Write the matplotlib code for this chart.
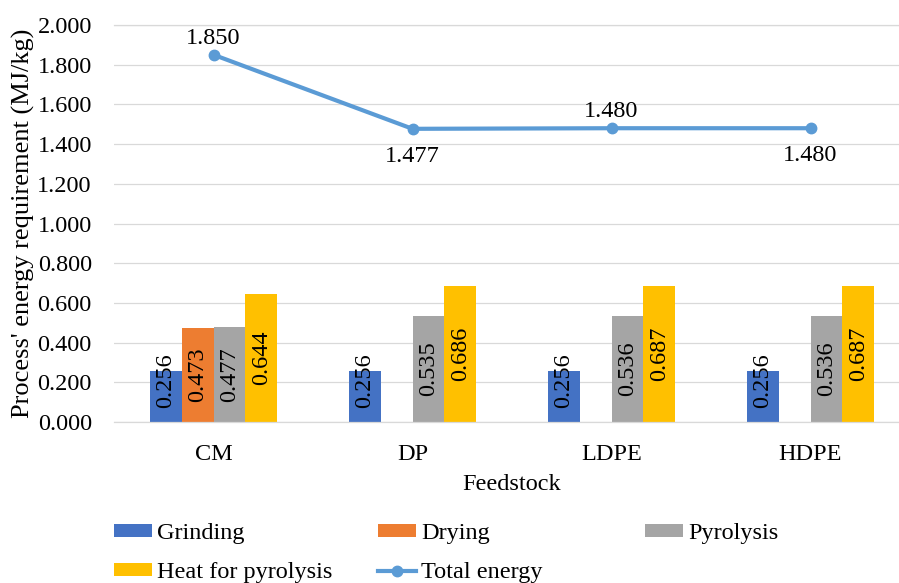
import numpy as np
import matplotlib
matplotlib.use('Agg')
import matplotlib.pyplot as plt
from matplotlib.ticker import FormatStrFormatter

plt.rcParams['font.family'] = ['Liberation Serif', 'DejaVu Serif']

feedstocks = ['CM', 'DP', 'LDPE', 'HDPE']
grinding = [0.256, 0.256, 0.256, 0.256]
drying = [0.473, np.nan, np.nan, np.nan]      # no drying step for the plastics
pyrolysis = [0.477, 0.535, 0.536, 0.536]
heat_pyrolysis = [0.644, 0.686, 0.687, 0.687]
total_energy = [1.850, 1.477, 1.480, 1.480]
total_label_side = [1, -1, 1, -1]   # label above (+1) or below (-1) the point

series_names = ['Grinding', 'Drying', 'Pyrolysis', 'Heat for pyrolysis']
series_colors = ['#4472C4', '#ED7D31', '#A5A5A5', '#FFC000']
line_color = '#5B9BD5'
grid_color = '#D9D9D9'
FS = 17.5

fig = plt.figure(figsize=(8.99, 5.83), dpi=100)
ax = fig.add_axes([114 / 899, 161 / 583, 796 / 899, 397 / 583])

x = np.arange(len(feedstocks))
w = 0.16
handles = {}
for i, (name, vals, col) in enumerate(zip(series_names,
                                          [grinding, drying, pyrolysis, heat_pyrolysis],
                                          series_colors)):
    offs = (i - 1.5) * w
    b = ax.bar(x + offs, vals, w, color=col, label=name, zorder=2)
    handles[name] = b
    for xi, v in zip(x + offs, vals):
        if np.isnan(v):
            continue
        ax.text(xi, max(v / 2, 0.21), f'{v:.3f}', rotation=90,
                ha='center', va='center', fontsize=FS, zorder=4)

line, = ax.plot(x, total_energy, color=line_color, lw=3, marker='o', ms=7.5,
                label='Total energy', zorder=3)
handles['Total energy'] = line
for xi, v, side in zip(x, total_energy, total_label_side):
    ax.annotate(f'{v:.3f}', (xi, v), xytext=(0, 12 if side > 0 else -20),
                textcoords='offset points', ha='center', va='center', fontsize=FS)

ax.set_xlim(-0.5, 3.5)
ax.set_ylim(0, 2.0)
ax.set_yticks(np.arange(0, 2.001, 0.2))
ax.yaxis.set_major_formatter(FormatStrFormatter('%.3f'))
ax.set_xticks(x, feedstocks)
ax.tick_params(length=0, labelsize=FS)
ax.tick_params(axis='y', pad=16)
ax.tick_params(axis='x', pad=16)
ax.grid(axis='y', color=grid_color, lw=0.9)
ax.set_axisbelow(True)
for s in ['left', 'right']:
    ax.spines[s].set_visible(False)
for s in ['top', 'bottom']:
    ax.spines[s].set_color(grid_color)
    ax.spines[s].set_linewidth(0.9)

ax.set_xlabel('Feedstock', fontsize=FS, labelpad=6.5)
ax.set_ylabel("Process' energy requirement (MJ/kg)", fontsize=19, labelpad=2)

# Excel-style legend grid: three fixed columns, two rows
leg_kw = dict(loc='upper left', frameon=False, fontsize=FS, borderpad=0,
              borderaxespad=0, handlelength=1.56, handleheight=0.45,
              handletextpad=0.22, labelspacing=0.76, numpoints=1)
top = 1 - 523 / 583
columns = [(114, ['Grinding', 'Heat for pyrolysis']),
           (378, ['Drying', 'Total energy']),
           (645, ['Pyrolysis'])]
for px, names in columns:
    lg = fig.legend([handles[n] for n in names], names,
                    bbox_to_anchor=(px / 899, top), **leg_kw)

fig.savefig('out.png', dpi=100)
